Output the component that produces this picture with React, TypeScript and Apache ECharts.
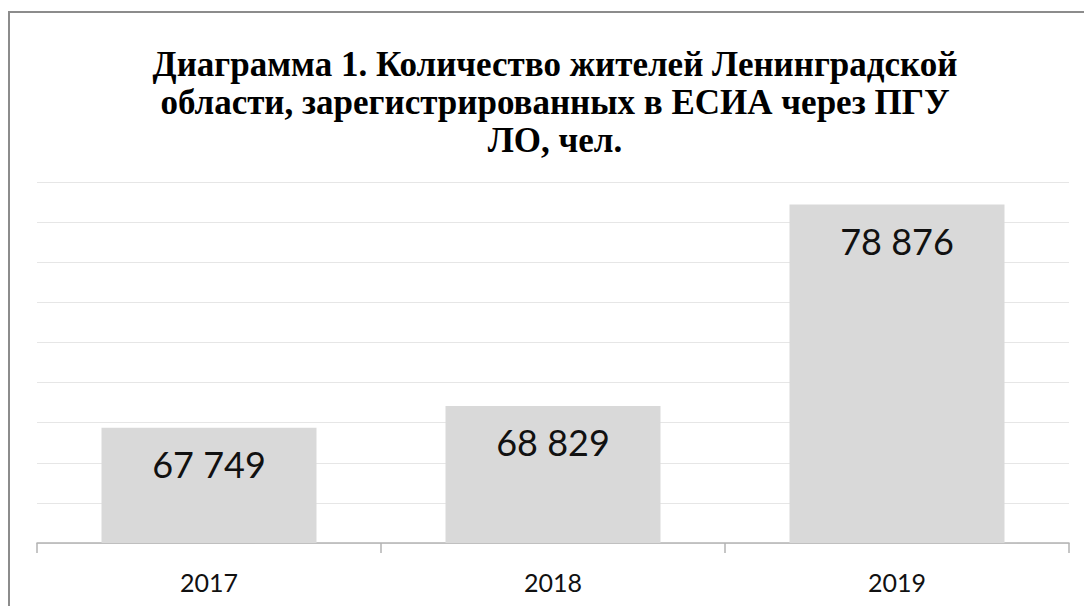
import React, { useEffect, useRef } from "react";
import * as echarts from "echarts";

const categories: string[] = ["2017", "2018", "2019"];
const residents: number[] = [67749, 68829, 78876];
const titleLines: string[] = [
  "Диаграмма 1. Количество жителей Ленинградской",
  "области, зарегистрированных в ЕСИА через ПГУ",
  "ЛО, чел.",
];
const yMin = 62000;
const yMax = 80000;
const yStep = 2000;

const fmt = (v: number) => String(v).replace(/\B(?=(\d{3})+(?!\d))/g, " ");

export default function App() {
  const ref = useRef<HTMLDivElement>(null);
  useEffect(() => {
    document.body.style.margin = "0";
    if (!ref.current) return;
    const chart = echarts.init(ref.current, null, { renderer: "svg" });
    chart.setOption({
      animation: false,
      backgroundColor: "#ffffff",
      graphic: [
        {
          type: "rect",
          shape: { x: 9, y: 12, width: 1200, height: 800 },
          style: { fill: "none", stroke: "#8c8c8c", lineWidth: 2 },
          silent: true,
        },
        {
          type: "text",
          x: 555,
          y: 45,
          style: {
            text: titleLines.join("\n"),
            fontFamily: "Liberation Serif",
            fontWeight: "bold",
            fontSize: 35,
            lineHeight: 38,
            fill: "#000000",
            textAlign: "center",
            textVerticalAlign: "top",
          },
        },
      ],
      grid: { left: 37, right: 15, top: 182, bottom: 63, containLabel: false },
      xAxis: {
        type: "category",
        data: categories,
        axisLine: { lineStyle: { color: "#b3b3b3", width: 1.5 } },
        axisTick: { show: true, length: 10, lineStyle: { color: "#b3b3b3", width: 1.5 } },
        axisLabel: {
          fontFamily: "Lato",
          fontSize: 25,
          color: "#111111",
          margin: 26,
        },
      },
      yAxis: {
        type: "value",
        min: yMin,
        max: yMax,
        interval: yStep,
        axisLabel: { show: false },
        axisLine: { show: false },
        axisTick: { show: false },
        splitLine: { lineStyle: { color: "#e6e6e6", width: 1 } },
      },
      series: [
        {
          type: "bar",
          data: residents,
          barCategoryGap: "37.5%",
          itemStyle: { color: "#d9d9d9" },
          label: {
            show: true,
            position: "insideTop",
            distance: 18,
            fontFamily: "Lato",
            fontSize: 36,
            color: "#111111",
            formatter: (p: any) => fmt(p.value),
          },
        },
      ],
    });
    return () => chart.dispose();
  }, []);
  return <div ref={ref} style={{ width: 1084, height: 606 }} />;
}
